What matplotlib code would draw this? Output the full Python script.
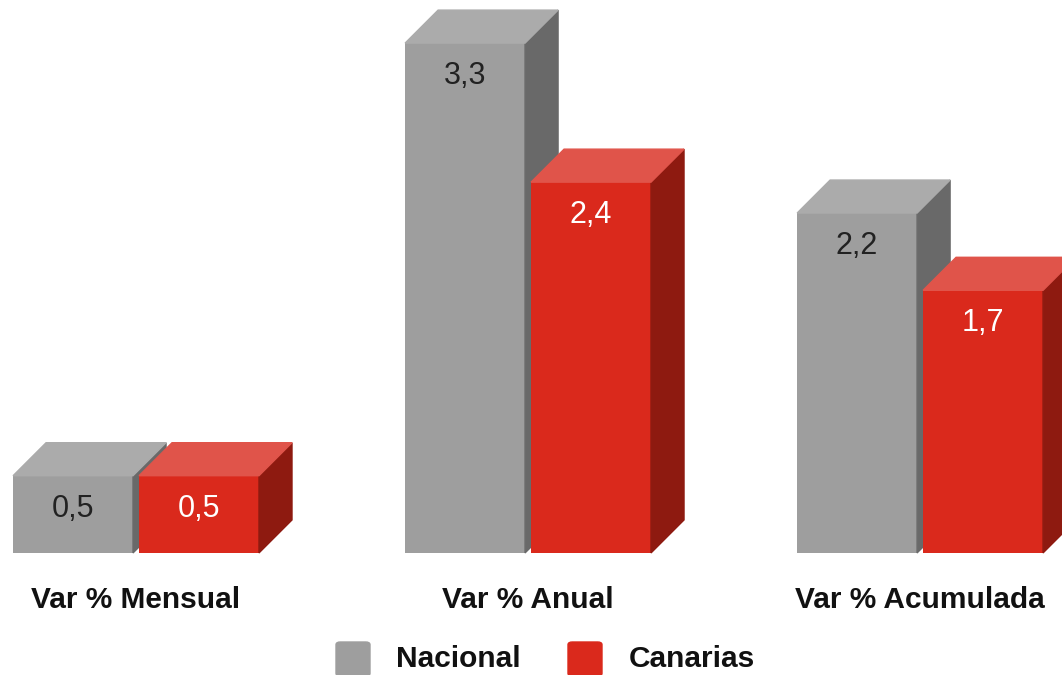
import matplotlib.pyplot as plt
from matplotlib.patches import Polygon, FancyBboxPatch

plt.rcParams['font.family'] = ['Liberation Sans', 'DejaVu Sans']

# Data
categories = ["Var % Mensual", "Var % Anual", "Var % Acumulada"]
nacional = [0.5, 3.3, 2.2]
canarias = [0.5, 2.4, 1.7]
labels_nac = ["0,5", "3,3", "2,2"]
labels_can = ["0,5", "2,4", "1,7"]

# Colours: front, top, side
gray = ("#9e9e9e", "#ababab", "#696969")
red = ("#da291c", "#e0544a", "#8e1a10")

fig = plt.figure(figsize=(10.62, 6.75), dpi=100)
ax = fig.add_axes([0, 0, 1, 1])
ax.set_xlim(-0.347, 2.362)
ax.set_ylim(-0.79, 3.579)
ax.axis("off")

width = 0.306
gap = 0.0153
dx = 0.0842
dy = 0.2136


def draw_bar(x0, h, cols, label, txtcol):
    x1 = x0 + width
    ax.bar(x0, h, width=width, align="edge", color=cols[0], zorder=2)
    top = [(x0, h), (x1, h), (x1 + dx, h + dy), (x0 + dx, h + dy)]
    side = [(x1, 0), (x1 + dx, dy), (x1 + dx, h + dy), (x1, h)]
    ax.add_patch(Polygon(side, closed=True, color=cols[2], zorder=2))
    ax.add_patch(Polygon(top, closed=True, color=cols[1], zorder=2))
    ax.text(x0 + width / 2, h - 0.266, label, ha="center", va="baseline",
            fontsize=22, color=txtcol, zorder=3)


for i in range(len(categories)):
    left = i - width - gap / 2
    draw_bar(left, nacional[i], gray, labels_nac[i], "#222222")
    draw_bar(i + gap / 2, canarias[i], red, labels_can[i], "white")
    ax.text(i, -0.356, categories[i], ha="center", va="baseline",
            fontsize=21.5, fontweight="bold", color="#111111")

# Legend
legend = [("Nacional", gray[0], 336, 396), ("Canarias", red[0], 568, 629)]
for name, col, sx, tx in legend:
    fig.patches.append(FancyBboxPatch((sx / 1062, 1 - 676 / 675), 34 / 1062, 34 / 675,
                                      boxstyle="round,pad=0,rounding_size=0.004",
                                      transform=fig.transFigure, color=col))
    fig.text(tx / 1062, 1 - 667 / 675, name, ha="left", va="baseline",
             fontsize=21.5, fontweight="bold", color="#111111")

fig.savefig("out.png", dpi=100)
